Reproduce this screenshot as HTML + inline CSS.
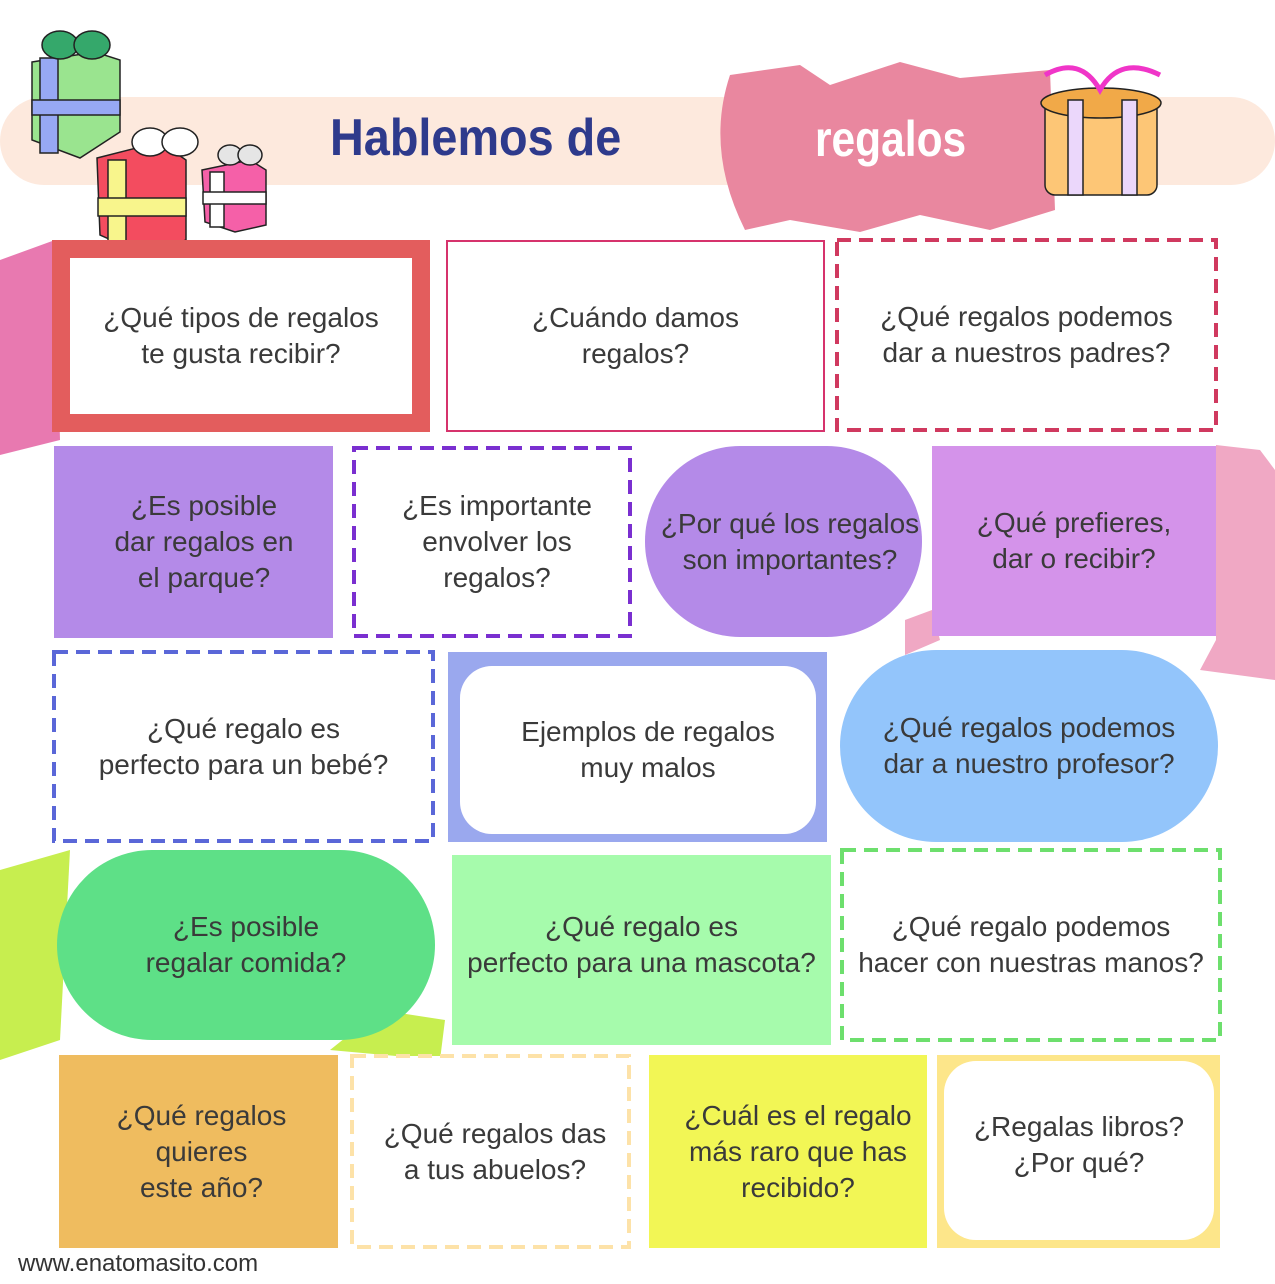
<!DOCTYPE html>
<html><head><meta charset="utf-8"><style>
body{margin:0;width:1275px;height:1284px;background:#fff;position:relative;overflow:hidden;font-family:"Liberation Sans",sans-serif}
.a{position:absolute;box-sizing:border-box}
.t{display:flex;align-items:center;justify-content:center;text-align:center;font-size:28px;color:#3a3a3a;line-height:36px}
</style></head><body>
<svg class="a" style="left:0;top:0" width="1275" height="1284">
<rect x="0" y="97" width="1275" height="88" rx="44" fill="#fde9dd"/>
<path d="M730 75 L800 65 L830 85 L900 62 L960 78 L1050 70 L1055 210 L990 230 L920 215 L860 232 L790 220 L745 230 Q705 150 730 75Z" fill="#e9879f"/>
<path d="M0 260 L55 240 L60 440 L0 455Z" fill="#e879b0"/>
<path d="M1216 445 L1260 450 L1275 470 L1275 680 L1200 670 L1216 640Z" fill="#f0a8c4"/>
<path d="M905 620 L932 610 L940 640 L905 655Z" fill="#f0a8c4"/>
<path d="M0 870 L70 850 L60 1040 L0 1060Z" fill="#c7ee4f"/>
<path d="M380 1010 L445 1020 L440 1060 L330 1050Z" fill="#c7ee4f"/>
<g stroke="#222" stroke-width="1.5">
<path d="M32 62 L95 52 L120 60 L120 132 L80 158 L32 140Z" fill="#9ae48f"/>
<rect x="40" y="58" width="18" height="95" fill="#97a8f4"/><rect x="32" y="100" width="88" height="15" fill="#97a8f4"/>
<ellipse cx="60" cy="45" rx="18" ry="14" fill="#35a86b"/><ellipse cx="92" cy="45" rx="18" ry="14" fill="#35a86b"/>
<path d="M97 158 L160 142 L186 160 L186 240 L145 255 L100 235Z" fill="#f34c5f"/>
<rect x="108" y="160" width="18" height="90" fill="#f8f58c"/><rect x="98" y="198" width="88" height="18" fill="#f8f58c"/>
<ellipse cx="150" cy="142" rx="18" ry="14" fill="#fff"/><ellipse cx="180" cy="142" rx="18" ry="14" fill="#fff"/>
<path d="M202 170 L250 160 L266 170 L266 225 L235 232 L205 222Z" fill="#f560a8"/>
<rect x="210" y="172" width="14" height="55" fill="#fff"/><rect x="203" y="192" width="63" height="12" fill="#fff"/>
<ellipse cx="273" cy="162" rx="0" ry="0"/>
<ellipse cx="230" cy="155" rx="12" ry="10" fill="#e5e5e5"/><ellipse cx="250" cy="155" rx="12" ry="10" fill="#e5e5e5"/>
<rect x="1045" y="100" width="112" height="95" rx="10" fill="#fdc676"/>
<ellipse cx="1101" cy="103" rx="60" ry="15" fill="#f1a948"/>
<rect x="1068" y="100" width="15" height="95" fill="#ebd7fb"/><rect x="1122" y="100" width="15" height="95" fill="#ebd7fb"/>
</g>
<path d="M1045 75 Q1080 55 1100 90 Q1120 55 1160 75" stroke="#f035c8" stroke-width="5" fill="none"/>
<rect x="61" y="249" width="360" height="174" fill="#fff" stroke="#e35d5d" stroke-width="18"/>
<rect x="447" y="241" width="377" height="190" fill="#fff" stroke="#d6336c" stroke-width="2"/>
<rect x="837" y="240" width="379" height="190" fill="#fff" stroke="#d0395f" stroke-width="4" stroke-dasharray="14,8"/>
<rect x="54" y="446" width="279" height="192" fill="#b48ae8"/>
<rect x="354" y="448" width="276" height="188" fill="#fff" stroke="#7a2fd0" stroke-width="4" stroke-dasharray="14,8"/>
<rect x="645" y="446" width="277" height="191" rx="95" fill="#b48ae8"/>
<rect x="932" y="446" width="284" height="190" fill="#d493ea"/>
<rect x="54" y="652" width="379" height="189" fill="#fff" stroke="#5a67d8" stroke-width="4" stroke-dasharray="14,8"/>
<rect x="448" y="652" width="379" height="190" fill="#9aa8ee"/>
<rect x="460" y="666" width="356" height="168" rx="32" fill="#fff"/>
<rect x="840" y="650" width="378" height="192" rx="96" fill="#93c5fb"/>
<rect x="57" y="850" width="378" height="190" rx="95" fill="#5ee087"/>
<rect x="452" y="855" width="379" height="190" fill="#a6fbac"/>
<rect x="842" y="850" width="378" height="190" fill="#fff" stroke="#6ddf6d" stroke-width="4" stroke-dasharray="14,8"/>
<rect x="59" y="1055" width="279" height="193" fill="#efbc5f"/>
<rect x="352" y="1056" width="277" height="191" fill="#fff" stroke="#fde2a8" stroke-width="4" stroke-dasharray="14,8"/>
<rect x="649" y="1055" width="278" height="193" fill="#f2f655"/>
<rect x="937" y="1055" width="283" height="193" fill="#fde68a"/>
<rect x="944" y="1061" width="270" height="179" rx="32" fill="#fff"/>
</svg>
<div class="a" style="left:330px;top:108px;font-size:52px;font-weight:bold;color:#2e3a8c;transform:scaleX(0.9);transform-origin:left">Hablemos de</div>
<div class="a" style="left:815px;top:110px;font-size:50px;font-weight:bold;color:#fff;transform:scaleX(0.85);transform-origin:left">regalos</div>
<div class="a t" style="left:52px;top:240px;width:378px;height:192px">¿Qué tipos de regalos<br>te gusta recibir?</div>
<div class="a t" style="left:446px;top:240px;width:379px;height:192px">¿Cuándo damos<br>regalos?</div>
<div class="a t" style="left:835px;top:238px;width:383px;height:194px">¿Qué regalos podemos<br>dar a nuestros padres?</div>
<div class="a t" style="left:54px;top:446px;width:300px;height:192px">¿Es posible<br>dar regalos en<br>el parque?</div>
<div class="a t" style="left:352px;top:446px;width:290px;height:192px">¿Es importante<br>envolver los<br>regalos?</div>
<div class="a t" style="left:645px;top:446px;width:290px;height:191px">¿Por qué los regalos<br>son importantes?</div>
<div class="a t" style="left:932px;top:446px;width:284px;height:190px">¿Qué prefieres,<br>dar o recibir?</div>
<div class="a t" style="left:52px;top:650px;width:383px;height:193px">¿Qué regalo es<br>perfecto para un bebé?</div>
<div class="a t" style="left:460px;top:666px;width:376px;height:168px">Ejemplos de regalos<br>muy malos</div>
<div class="a t" style="left:840px;top:650px;width:378px;height:192px">¿Qué regalos podemos<br>dar a nuestro profesor?</div>
<div class="a t" style="left:57px;top:850px;width:378px;height:190px">¿Es posible<br>regalar comida?</div>
<div class="a t" style="left:452px;top:855px;width:379px;height:180px">¿Qué regalo es<br>perfecto para una mascota?</div>
<div class="a t" style="left:840px;top:848px;width:382px;height:194px">¿Qué regalo podemos<br>hacer con nuestras manos?</div>
<div class="a t" style="left:59px;top:1055px;width:285px;height:193px">¿Qué regalos<br>quieres<br>este año?</div>
<div class="a t" style="left:350px;top:1055px;width:290px;height:193px">¿Qué regalos das<br>a tus abuelos?</div>
<div class="a t" style="left:649px;top:1055px;width:298px;height:193px">¿Cuál es el regalo<br>más raro que has<br>recibido?</div>
<div class="a t" style="left:944px;top:1055px;width:270px;height:179px">¿Regalas libros?<br>¿Por qué?</div>
<div class="a" style="left:18px;top:1250px;font-size:24px;color:#333">www.enatomasito.com</div>
</body></html>
